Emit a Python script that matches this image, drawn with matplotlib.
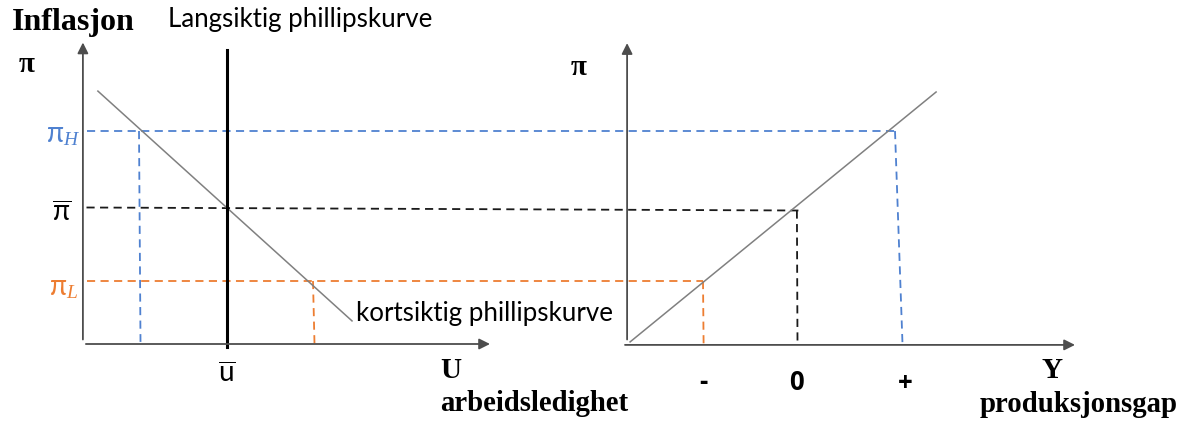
import matplotlib.pyplot as plt

plt.rcParams['mathtext.fontset'] = 'custom'
plt.rcParams['mathtext.rm'] = 'Lato'
plt.rcParams['mathtext.it'] = 'Liberation Serif:italic'

# diagram units: left origin = (0, 0); right panel origin at x = 18
pi_H = 7.1
pi_bar = 4.55
pi_L = 2.1
u_bar = 4.73

# short-run phillips curve (left) and output-gap line (right), endpoints
sr_x = [0.43, 8.9]
sr_y = [8.43, 0.77]
ad_x = [18.17, 28.37]
ad_y = [0.07, 8.4]

# unemployment where curve hits pi_H / pi_L
u_H = 1.8
u_L = 7.6
# output gap positions (-, 0, +) on right x axis
gap_L = 20.6
gap_0 = 23.73
gap_H = 27.0
gap_labels = ['-', '0', '+']
gap_label_x = [20.6, 23.73, 27.33]

c_blue = '#4F81D0'
c_orange = '#ED7D31'
c_black = '#1a1a1a'
c_axis = '#4d4d4d'

fig = plt.figure(figsize=(11.81, 4.21), dpi=100)
ax = fig.add_axes([0, 0, 1, 1])
ax.set_xlim(-85 / 30, (1181 - 85) / 30)
ax.set_ylim(-77 / 30, 344 / 30)
ax.axis('off')

serif = 'Liberation Serif'
sans = 'Lato'

def axis_arrow(x0, y0, x1, y1):
    ax.annotate('', xy=(x1, y1), xytext=(x0, y0),
                arrowprops=dict(arrowstyle='-|>', color=c_axis, lw=1.3,
                                mutation_scale=16, shrinkA=0, shrinkB=0))

# axes
axis_arrow(-0.07, 0.15, -0.07, 10.05)
axis_arrow(0.03, 0.0, 13.5, 0.0)
axis_arrow(18.07, 0.15, 18.07, 10.03)
axis_arrow(18.0, -0.03, 33.0, -0.03)

# dashed guide lines
dash = dict(ls=(0, (4.5, 3)), lw=1.3)
ax.plot([0.05, gap_H], [pi_H, pi_H], color=c_blue, **dash)
ax.plot([u_H, u_H + 0.05], [pi_H, 0.07], color=c_blue, **dash)
ax.plot([gap_H, gap_H + 0.25], [pi_H, 0.0], color=c_blue, **dash)

ax.plot([0.05, gap_0 + 0.05], [pi_bar, pi_bar - 0.1], color=c_black, **dash)
ax.plot([gap_0, gap_0 + 0.02], [pi_bar - 0.1, 0.0], color=c_black, **dash)

ax.plot([0.05, gap_L], [pi_L, pi_L], color=c_orange, **dash)
ax.plot([u_L, u_L + 0.05], [pi_L, 0.0], color=c_orange, **dash)
ax.plot([gap_L, gap_L + 0.02], [pi_L, 0.0], color=c_orange, **dash)

# curves
ax.plot(sr_x, sr_y, color='#808080', lw=1.1)
ax.plot(ad_x, ad_y, color='#808080', lw=1.1)
ax.plot([u_bar, u_bar], [-0.1, 9.8], color='black', lw=2.2)

# labels
ax.text(-2.43, 10.73, 'Inflasjon', family=serif, weight='bold', fontsize=23, va='center', ha='left')
ax.text(-2.2, 9.3, 'π', family=serif, weight='bold', fontsize=21, va='center', ha='left')
ax.text(2.77, 10.8, 'Langsiktig phillipskurve', family=sans, fontsize=18.6, va='center', ha='left')
ax.text(-0.15, 7.0, r'$\mathrm{π}_{H}$', fontsize=20, color=c_blue, va='center', ha='right')
ax.text(-0.77, 4.35, r'$\overline{\mathrm{π}}$', fontsize=20, va='center', ha='center')
ax.text(-0.22, 1.9, r'$\mathrm{π}_{L}$', fontsize=20, color=c_orange, va='center', ha='right')
ax.text(u_bar, -1.0, r'$\overline{\mathrm{u}}$', fontsize=20, va='center', ha='center')
ax.text(9.03, 1.0, 'kortsiktig phillipskurve', family=sans, fontsize=18.6, va='center', ha='left')
ax.text(11.83, -0.87, 'U', family=serif, weight='bold', fontsize=21, va='center', ha='left')
ax.text(11.83, -1.97, 'arbeidsledighet', family=serif, weight='bold', fontsize=20.7, va='center', ha='left')

ax.text(16.2, 9.23, 'π', family=serif, weight='bold', fontsize=21, va='center', ha='left')
for lab, gx in zip(gap_labels, gap_label_x):
    ax.text(gx, -1.3, lab, family='Open Sans', weight='bold', fontsize=18.5, va='center', ha='center')
ax.text(31.9, -0.87, 'Y', family=serif, weight='bold', fontsize=21, va='center', ha='left')
ax.text(29.83, -2.03, 'produksjonsgap', family=serif, weight='bold', fontsize=20.7, va='center', ha='left')

fig.savefig('out.png', dpi=100)
